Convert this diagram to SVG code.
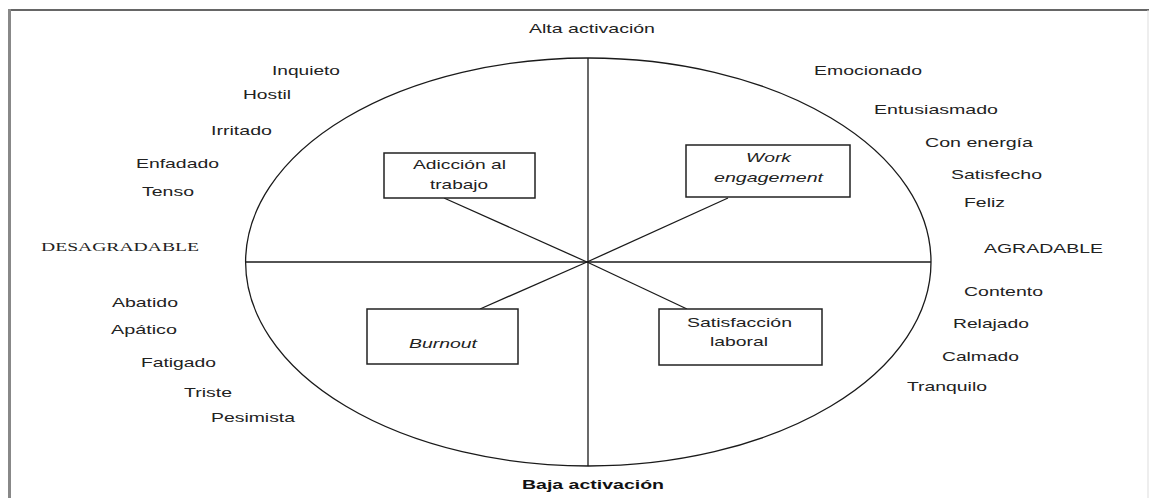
<svg xmlns="http://www.w3.org/2000/svg" width="1149" height="498" viewBox="0 0 1149 498">
<style>
.t{font-family:"Liberation Sans",Arial,sans-serif;font-size:13px;fill:#222}
.s{font-family:"Liberation Serif","Times New Roman",serif;font-size:13.5px;fill:#222}
.b{font-family:"Liberation Sans",Arial,sans-serif;font-size:13px;font-weight:bold;fill:#111}
.i{font-style:italic}
.box{fill:#fff;stroke:#222;stroke-width:1.5}
.ln{stroke:#1a1a1a;stroke-width:1.3;fill:none}
</style>
<rect width="1149" height="498" fill="#fff"/>
<g id="frame">
<line x1="9.5" y1="10" x2="1149" y2="10" stroke="#333" stroke-width="1.6"/>
<line x1="9.5" y1="9" x2="9.5" y2="498" stroke="#888" stroke-width="3"/>
<line x1="1148" y1="10" x2="1148" y2="498" stroke="#ddd" stroke-width="1"/>
</g>
<g id="axes">
<ellipse cx="588.3" cy="262" rx="342.7" ry="204" class="ln" stroke-width="1.5"/>
<line x1="588" y1="58" x2="588" y2="466" class="ln"/>
<line x1="245.6" y1="262" x2="931" y2="262" class="ln"/>
</g>
<g id="connectors">
<line x1="587" y1="262" x2="444" y2="198" class="ln"/>
<line x1="587" y1="262" x2="728" y2="198" class="ln"/>
<line x1="587" y1="262" x2="480" y2="309" class="ln"/>
<line x1="587" y1="262" x2="687" y2="309" class="ln"/>
</g>
<g id="adiccion">
<rect x="384" y="153" width="151" height="45" class="box"/>
<text x="413" y="169" class="t" textLength="93" lengthAdjust="spacingAndGlyphs">Adicción al</text>
<text x="430" y="189" class="t" textLength="58" lengthAdjust="spacingAndGlyphs">trabajo</text>
</g>
<g id="work-engagement">
<rect x="686" y="145" width="164" height="52" class="box"/>
<text x="746" y="162" class="t i" textLength="45" lengthAdjust="spacingAndGlyphs">Work</text>
<text x="714" y="182" class="t i" textLength="109" lengthAdjust="spacingAndGlyphs">engagement</text>
</g>
<g id="burnout">
<rect x="367" y="309" width="151" height="55" class="box"/>
<text x="409" y="348" class="t i" textLength="68" lengthAdjust="spacingAndGlyphs">Burnout</text>
</g>
<g id="satisfaccion">
<rect x="659" y="309" width="163" height="56" class="box"/>
<text x="687" y="327" class="t" textLength="105" lengthAdjust="spacingAndGlyphs">Satisfacción</text>
<text x="710" y="346" class="t" textLength="58" lengthAdjust="spacingAndGlyphs">laboral</text>
</g>
<g id="labels">
<text x="529" y="33" class="t" textLength="126" lengthAdjust="spacingAndGlyphs">Alta activación</text>
<text x="522" y="489" class="b" textLength="142" lengthAdjust="spacingAndGlyphs">Baja activación</text>
<text x="41" y="251" class="s" textLength="158" lengthAdjust="spacingAndGlyphs">DESAGRADABLE</text>
<text x="984" y="253" class="t" textLength="119" lengthAdjust="spacingAndGlyphs">AGRADABLE</text>
<text x="272" y="75" class="t" textLength="68" lengthAdjust="spacingAndGlyphs">Inquieto</text>
<text x="243" y="99" class="t" textLength="48" lengthAdjust="spacingAndGlyphs">Hostil</text>
<text x="211" y="135" class="t" textLength="61" lengthAdjust="spacingAndGlyphs">Irritado</text>
<text x="136" y="168" class="t" textLength="83" lengthAdjust="spacingAndGlyphs">Enfadado</text>
<text x="142" y="196" class="t" textLength="52" lengthAdjust="spacingAndGlyphs">Tenso</text>
<text x="112" y="307" class="t" textLength="66" lengthAdjust="spacingAndGlyphs">Abatido</text>
<text x="111" y="334" class="t" textLength="66" lengthAdjust="spacingAndGlyphs">Apático</text>
<text x="141" y="367" class="t" textLength="75" lengthAdjust="spacingAndGlyphs">Fatigado</text>
<text x="184" y="397" class="t" textLength="48" lengthAdjust="spacingAndGlyphs">Triste</text>
<text x="211" y="422" class="t" textLength="84" lengthAdjust="spacingAndGlyphs">Pesimista</text>
<text x="814" y="75" class="t" textLength="108" lengthAdjust="spacingAndGlyphs">Emocionado</text>
<text x="874" y="114" class="t" textLength="124" lengthAdjust="spacingAndGlyphs">Entusiasmado</text>
<text x="925" y="147" class="t" textLength="108" lengthAdjust="spacingAndGlyphs">Con energía</text>
<text x="951" y="179" class="t" textLength="91" lengthAdjust="spacingAndGlyphs">Satisfecho</text>
<text x="964" y="207" class="t" textLength="41" lengthAdjust="spacingAndGlyphs">Feliz</text>
<text x="964" y="296" class="t" textLength="79" lengthAdjust="spacingAndGlyphs">Contento</text>
<text x="953" y="328" class="t" textLength="76" lengthAdjust="spacingAndGlyphs">Relajado</text>
<text x="942" y="361" class="t" textLength="77" lengthAdjust="spacingAndGlyphs">Calmado</text>
<text x="907" y="391" class="t" textLength="80" lengthAdjust="spacingAndGlyphs">Tranquilo</text>
</g>
</svg>
